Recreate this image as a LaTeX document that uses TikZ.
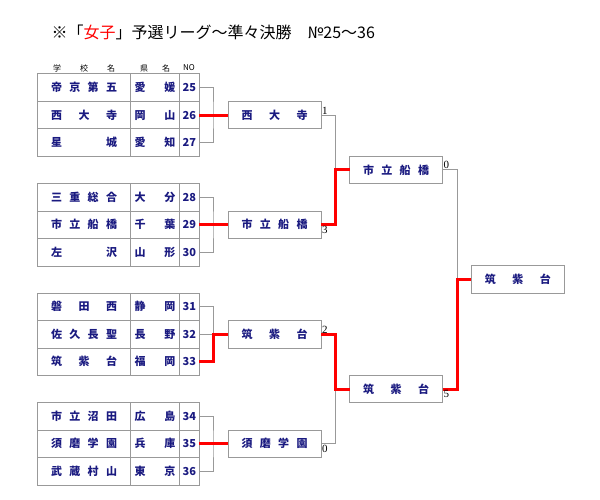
\documentclass[tikz,border=0pt]{standalone}
\usepackage{fontspec}
\setmainfont{Noto Sans CJK JP}
\newfontfamily\scorefont{Liberation Serif}
\usepackage{tikz}
\usetikzlibrary{positioning}
\definecolor{teamblue}{HTML}{1A1A80}
\definecolor{linegray}{HTML}{999999}
\definecolor{winred}{HTML}{FF0000}
\newcommand{\sch}[1]{\makebox[66pt]{#1}}
\newcommand{\pre}[1]{\makebox[41pt]{#1}}

\begin{document}
\begin{tikzpicture}[
  x=1pt, y=-1pt,
  cell/.style={draw=linegray, line width=1pt, minimum height=27.5pt, inner sep=0pt,
    outer sep=0pt, text=teamblue, font=\fontsize{11}{13}\selectfont\bfseries},
  school/.style={cell, minimum width=93.5pt},
  pref/.style={cell, minimum width=48.5pt},
  num/.style={cell, minimum width=20pt},
  team/.style={cell, minimum width=93pt},
  head/.style={font=\fontsize{8}{9}\selectfont},
  score/.style={font=\scorefont\fontsize{11}{12}\selectfont, inner sep=1pt},
  gline/.style={draw=linegray, line width=1pt},
  rline/.style={draw=winred, line width=3pt}
]
  \useasboundingbox (0,0) rectangle (600,500);

  % title
  \node[anchor=west, font=\fontsize{16}{18}\selectfont] (title) at (48,32)
    {※「{\color{winred}女子}」予選リーグ～準々決勝　№25～36};

  % header
  \node[head] (h1) at (84,68) {\makebox[62pt]{学\hfill 校\hfill 名}};
  \node[head] (h2) at (155,68) {\makebox[30pt]{県\hfill 名}};
  \node[head] (h3) at (189,68) {NO};

  % 25-27
  \node[school] (s25) at (84,87.75) {\sch{帝\hfill 京\hfill 第\hfill 五}};
  \node[pref, right=0pt of s25] (p25) {\pre{愛\hfill 媛}};
  \node[num, right=0pt of p25] (n25) {25};
  \node[school] (s26) at (84,115.25) {\sch{西\hfill 大\hfill 寺}};
  \node[pref, right=0pt of s26] (p26) {\pre{岡\hfill 山}};
  \node[num, right=0pt of p26] (n26) {26};
  \node[school] (s27) at (84,142.75) {\sch{星\hfill 城}};
  \node[pref, right=0pt of s27] (p27) {\pre{愛\hfill 知}};
  \node[num, right=0pt of p27] (n27) {27};

  % 28-30
  \node[school] (s28) at (84,197.25) {\sch{三\hfill 重\hfill 総\hfill 合}};
  \node[pref, right=0pt of s28] (p28) {\pre{大\hfill 分}};
  \node[num, right=0pt of p28] (n28) {28};
  \node[school] (s29) at (84,224.75) {\sch{市\hfill 立\hfill 船\hfill 橋}};
  \node[pref, right=0pt of s29] (p29) {\pre{千\hfill 葉}};
  \node[num, right=0pt of p29] (n29) {29};
  \node[school] (s30) at (84,252.25) {\sch{左\hfill 沢}};
  \node[pref, right=0pt of s30] (p30) {\pre{山\hfill 形}};
  \node[num, right=0pt of p30] (n30) {30};

  % 31-33
  \node[school] (s31) at (84,306.75) {\sch{磐\hfill 田\hfill 西}};
  \node[pref, right=0pt of s31] (p31) {\pre{静\hfill 岡}};
  \node[num, right=0pt of p31] (n31) {31};
  \node[school] (s32) at (84,334.25) {\sch{佐\hfill 久\hfill 長\hfill 聖}};
  \node[pref, right=0pt of s32] (p32) {\pre{長\hfill 野}};
  \node[num, right=0pt of p32] (n32) {32};
  \node[school] (s33) at (84,361.75) {\sch{筑\hfill 紫\hfill 台}};
  \node[pref, right=0pt of s33] (p33) {\pre{福\hfill 岡}};
  \node[num, right=0pt of p33] (n33) {33};

  % 34-36
  \node[school] (s34) at (84,416.25) {\sch{市\hfill 立\hfill 沼\hfill 田}};
  \node[pref, right=0pt of s34] (p34) {\pre{広\hfill 島}};
  \node[num, right=0pt of p34] (n34) {34};
  \node[school] (s35) at (84,443.75) {\sch{須\hfill 磨\hfill 学\hfill 園}};
  \node[pref, right=0pt of s35] (p35) {\pre{兵\hfill 庫}};
  \node[num, right=0pt of p35] (n35) {35};
  \node[school] (s36) at (84,471.25) {\sch{武\hfill 蔵\hfill 村\hfill 山}};
  \node[pref, right=0pt of s36] (p36) {\pre{東\hfill 京}};
  \node[num, right=0pt of p36] (n36) {36};

  % league winners
  \node[team] (w1) at (274.5,115.25) {\sch{西\hfill 大\hfill 寺}};
  \node[team] (w2) at (274.5,224.75) {\sch{市\hfill 立\hfill 船\hfill 橋}};
  \node[team] (w3) at (274.5,334.25) {\sch{筑\hfill 紫\hfill 台}};
  \node[team] (w4) at (274.5,443.75) {\sch{須\hfill 磨\hfill 学\hfill 園}};

  % semifinal and final
  \node[team] (r1) at (396,170) {\sch{市\hfill 立\hfill 船\hfill 橋}};
  \node[team] (r2) at (396,389) {\sch{筑\hfill 紫\hfill 台}};
  \node[team] (f) at (517.75,279.5) {\sch{筑\hfill 紫\hfill 台}};

  % junctions
  \coordinate (j1) at (213,115.25);
  \coordinate (j2) at (213,224.75);
  \coordinate (j3) at (213,334.25);
  \coordinate (j4) at (213,443.75);
  \coordinate (j5) at (335,170);
  \coordinate (j6) at (335,389);
  \coordinate (j7) at (457,279.5);

  % gray lines
  \draw[gline] (n25.east) -| (j1) |- (n27.east);
  \draw[gline] (n28.east) -| (j2) |- (n30.east);
  \draw[gline] (n31.east) -| (j3);
  \draw[gline] (n32.east) -- (j3);
  \draw[gline] (n34.east) -| (j4) |- (n36.east);
  \draw[gline] (w1.east) -| (j5);
  \draw[gline] (w4.east) -| (j6);
  \draw[gline] (r1.east) -| (j7);

  % red lines
  \draw[rline] (n26.east) -- (w1.west);
  \draw[rline] (n29.east) -- (w2.west);
  \draw[rline] (n33.east) -| (j3) -- (w3.west);
  \draw[rline] (n35.east) -- (w4.west);
  \draw[rline] (w2.east) -| (j5) -- (r1.west);
  \draw[rline] (w3.east) -| (j6) -- (r2.west);
  \draw[rline] (r2.east) -| (j7) -- (f.west);

  % scores
  \node[score, anchor=south west] (c1) at (w1.east) {1};
  \node[score, anchor=north west] (c2) at (w2.east) {3};
  \node[score, anchor=south west] (c3) at (w3.east) {2};
  \node[score, anchor=north west] (c4) at (w4.east) {0};
  \node[score, anchor=south west] (c5) at (r1.east) {0};
  \node[score, anchor=north west] (c6) at (r2.east) {5};
\end{tikzpicture}
\end{document}
